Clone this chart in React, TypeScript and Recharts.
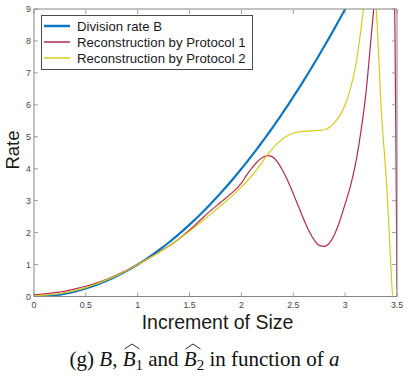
import React from 'react';
import { LineChart, Line, XAxis, YAxis, Legend } from 'recharts';

// increment of size a, and the rates read at each a
const SIZE = [
  0, 0.1, 0.2, 0.3, 0.4, 0.5, 0.6, 0.7, 0.8, 0.9,
  1.0, 1.1, 1.2, 1.3, 1.4, 1.5, 1.6, 1.7, 1.8, 1.9,
  2.0, 2.05, 2.1, 2.15, 2.2, 2.25, 2.3, 2.35, 2.4, 2.45,
  2.5, 2.55, 2.6, 2.65, 2.7, 2.75, 2.8, 2.85, 2.9, 2.95,
  3.0, 3.05, 3.1, 3.15, 3.2, 3.25, 3.3, 3.35, 3.4,
  3.42, 3.44, 3.46, 3.47, 3.48, 3.49, 3.5,
];
const RATE_B = [
  0, 0.01, 0.04, 0.09, 0.16, 0.25, 0.36, 0.49, 0.64, 0.81,
  1.0, 1.21, 1.44, 1.69, 1.96, 2.25, 2.56, 2.89, 3.24, 3.61,
  4.0, 4.2, 4.41, 4.62, 4.84, 5.06, 5.29, 5.52, 5.76, 6.0,
  6.25, 6.5, 6.76, 7.02, 7.29, 7.56, 7.84, 8.12, 8.41, 8.7,
  9.0, 9.3, 9.61, 9.92, 10.24, 10.56, 10.89, 11.22, 11.56,
  11.7, 11.83, 11.97, 12.04, 12.11, 12.18, 12.25,
];
const RATE_P1 = [
  0.05, 0.08, 0.12, 0.17, 0.24, 0.32, 0.42, 0.54, 0.68, 0.83,
  1.0, 1.18, 1.38, 1.58, 1.81, 2.08, 2.38, 2.68, 2.95, 3.22,
  3.55, 3.8, 4.02, 4.21, 4.34, 4.41, 4.37, 4.2, 3.93, 3.6,
  3.22, 2.82, 2.42, 2.06, 1.78, 1.6, 1.57, 1.68, 1.96, 2.38,
  2.9, 3.44, 4.15, 5.12, 6.35, 8.1, 9.9, 12, 13.5,
  13.6, 13, 11.5, 10.0, 8.4, 4.6, 0.2,
];
const RATE_P2 = [
  0.02, 0.04, 0.07, 0.12, 0.19, 0.28, 0.39, 0.52, 0.66, 0.82,
  1.0, 1.18, 1.37, 1.57, 1.8, 2.04, 2.3, 2.57, 2.84, 3.12,
  3.43, 3.6, 3.78, 3.98, 4.2, 4.43, 4.63, 4.8, 4.94, 5.04,
  5.11, 5.15, 5.17, 5.18, 5.19, 5.2, 5.22, 5.3, 5.45, 5.67,
  6.0, 6.5, 7.2, 8.3, 9.6, 10.5, 9.0, 5.75, 3.5,
  2.3, 1.0, 0, 0, 0, 0, 0,
];

const X_TICKS = [0, 0.5, 1, 1.5, 2, 2.5, 3, 3.5];
const Y_TICKS = [0, 1, 2, 3, 4, 5, 6, 7, 8, 9];

const rows = SIZE.map((a, i) => ({ a, b: RATE_B[i], p1: RATE_P1[i], p2: RATE_P2[i] }));

const AXIS = '#858585';
const TICK_TEXT = '#444';
const SANS = '"Liberation Sans", Arial, Helvetica, sans-serif';
const GAP = 5;
const IN = 4;

const SERIES = [
  { key: 'b', name: 'Division rate B', color: '#0B77C4', width: 2.2 },
  { key: 'p1', name: 'Reconstruction by Protocol 1', color: '#B7294E', width: 1.2 },
  { key: 'p2', name: 'Reconstruction by Protocol 2', color: '#D6CC1C', width: 1.2 },
];

// MATLAB-like ticks: short marks pointing into the plot box
const BottomTick = ({ x, y, payload }: any) => (
  <g>
    <line x1={x} x2={x} y1={y - GAP} y2={y - GAP - IN} stroke={AXIS} strokeWidth={0.8} />
    <text x={x} y={y} dy="0.71em" textAnchor="middle" fontSize={8.8} fill={TICK_TEXT} fontFamily={SANS}>
      {payload.value}
    </text>
  </g>
);
const LeftTick = ({ x, y, payload }: any) => (
  <g>
    <line x1={x + 3} x2={x + 3 + IN} y1={y} y2={y} stroke={AXIS} strokeWidth={0.8} />
    <text x={x} y={y} dy="0.35em" textAnchor="end" fontSize={8.8} fill={TICK_TEXT} fontFamily={SANS}>
      {payload.value}
    </text>
  </g>
);
// the box edges (1px axes) only carry the inward marks
const TopTick = ({ x, y }: any) => (
  <line x1={x} x2={x} y1={y + 1} y2={y + 1 + IN} stroke={AXIS} strokeWidth={0.8} />
);
const RightTick = ({ x, y }: any) => (
  <line x1={x - 1} x2={x - 1 - IN} y1={y} y2={y} stroke={AXIS} strokeWidth={0.8} />
);

const XLabel = ({ viewBox }: any) => (
  <text x={viewBox.x + viewBox.width / 2 + 2} y={viewBox.y + 32} textAnchor="middle" fontSize={19.5} fill="#1a1a1a" fontFamily={SANS}>
    Increment of Size
  </text>
);
const YLabel = () => (
  <text x={19} y={150} transform="rotate(-90 19 150)" textAnchor="middle" fontSize={18.5} fill="#1a1a1a" fontFamily={SANS}>
    Rate
  </text>
);

const LegendBox = ({ payload }: any) => (
  <div style={{ border: '1px solid #4a4a4a', background: '#fff', padding: '2px 6px 2px 1px', fontFamily: SANS, fontSize: 13.2, color: '#1a1a1a' }}>
    {SERIES.filter((s) => (payload || []).some((e: any) => e.value === s.name)).map((s) => (
      <div key={s.key} style={{ display: 'flex', alignItems: 'center', height: 16.2 }}>
        <svg width={28} height={6} style={{ marginRight: 6 }}>
          <line x1={1} x2={27} y1={3} y2={3} stroke={s.color} strokeWidth={s.width + 0.3} />
        </svg>
        <span style={{ whiteSpace: 'nowrap' }}>{s.name}</span>
      </div>
    ))}
  </div>
);

const HatB = ({ sub }: { sub: string }) => (
  <span style={{ position: 'relative', display: 'inline-block' }}>
    <svg width={16} height={7} viewBox="0 0 16 7" style={{ position: 'absolute', left: 1, top: -4 }}>
      <polyline points="0.5,6 8,1 15.5,6" fill="none" stroke="#111" strokeWidth={0.9} />
    </svg>
    <i>B</i>
    <span style={{ fontSize: 15, verticalAlign: -4 }}>{sub}</span>
  </span>
);

export default function App() {
  return (
    <div style={{ position: 'absolute', left: 0, top: 0, width: 409, height: 377, background: '#fff' }}>
      <LineChart width={409} height={377} data={rows} margin={{ top: 8, right: 11, bottom: 50, left: 0 }}>
        <XAxis
          dataKey="a"
          type="number"
          domain={[0, 3.5]}
          ticks={X_TICKS}
          allowDataOverflow
          height={30.5}
          stroke={AXIS}
          tickSize={0}
          tickMargin={GAP}
          tick={<BottomTick />}
          label={<XLabel />}
        />
        <XAxis
          xAxisId="top"
          dataKey="a"
          orientation="top"
          type="number"
          domain={[0, 3.5]}
          ticks={X_TICKS}
          allowDataOverflow
          height={1}
          stroke={AXIS}
          tickSize={0}
          tickMargin={0}
          tick={<TopTick />}
        />
        <YAxis
          type="number"
          domain={[0, 9]}
          ticks={Y_TICKS}
          allowDataOverflow
          width={34}
          stroke={AXIS}
          tickSize={0}
          tickMargin={3}
          tick={<LeftTick />}
          label={<YLabel />}
        />
        <YAxis
          yAxisId="right"
          orientation="right"
          type="number"
          domain={[0, 9]}
          ticks={Y_TICKS}
          allowDataOverflow
          width={1}
          stroke={AXIS}
          tickSize={0}
          tickMargin={0}
          tick={<RightTick />}
        />
        <Legend
          layout="vertical"
          align="center"
          verticalAlign="middle"
          wrapperStyle={{ top: 15, left: 41, width: 'auto' }}
          content={<LegendBox />}
        />
        {SERIES.map((s) => (
          <Line
            key={s.key}
            dataKey={s.key}
            name={s.name}
            type="monotone"
            stroke={s.color}
            strokeWidth={s.width}
            dot={false}
            activeDot={false}
            isAnimationActive={false}
          />
        ))}
      </LineChart>
      <div
        style={{
          position: 'absolute',
          left: 0,
          top: 347,
          width: 409,
          textAlign: 'center',
          fontFamily: '"Liberation Serif", "Times New Roman", serif',
          fontSize: 21,
          color: '#111',
          whiteSpace: 'nowrap',
        }}
      >
        (g) <i>B</i>, <HatB sub="1" /> and <HatB sub="2" /> in function of <i>a</i>
      </div>
    </div>
  );
}
